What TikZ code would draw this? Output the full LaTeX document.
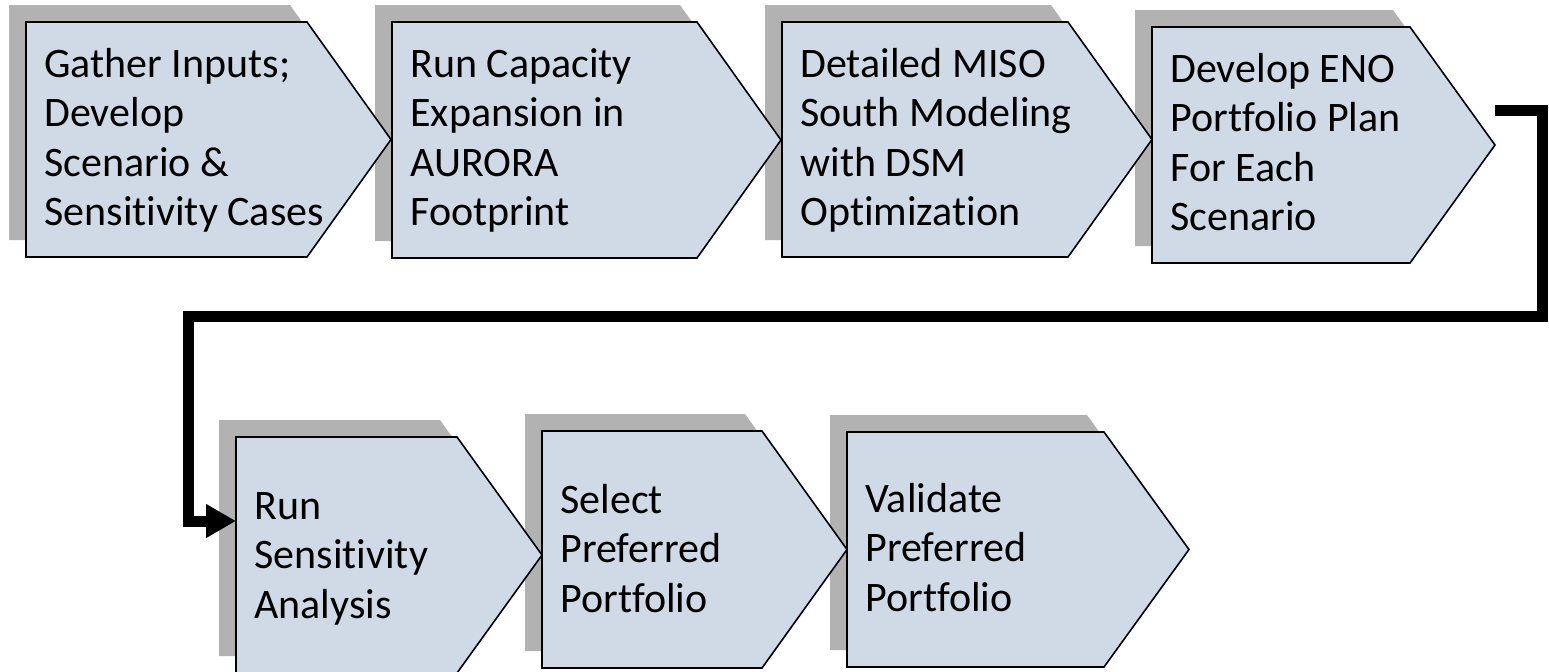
\documentclass[tikz,border=0pt]{standalone}
\usepackage{fontspec}
\setmainfont{Carlito}[Ligatures=NoCommon]
\usetikzlibrary{arrows.meta}
\definecolor{boxfill}{RGB}{208,218,230}
\definecolor{shadowgray}{RGB}{178,178,178}
\tikzset{
  chevbox/.style={fill=boxfill, draw=black, line width=0.8pt, line join=miter},
  chevshadow/.style={fill=shadowgray, draw=none},
  steptext/.style={anchor=base west, align=left, inner sep=0pt, font=\fontsize{21pt}{24.75pt}\selectfont},
  flowline/.style={draw=black, line width=5.5pt, line join=miter, line cap=butt,
    -{Triangle[length=15pt,width=16pt]}}
}
% #1 left, #2 top, #3 flat right, #4 tip x, #5 bottom
\newcommand{\chevpath}[5]{(#1,#2) -- (#3,#2) -- (#4,{(#2+#5)/2}) -- (#3,#5) -- (#1,#5) -- cycle}
\begin{document}
\begin{tikzpicture}[x=0.5pt,y=-0.5pt]
\useasboundingbox (0,0) rectangle (1549,671);
% shadows
\begin{scope}[shift={(-17,-17)}]
\fill[chevshadow] \chevpath{26}{22}{307}{391}{257};
\fill[chevshadow] \chevpath{392}{22}{697}{781}{258};
\fill[chevshadow] \chevpath{782}{22}{1068}{1152}{257};
\fill[chevshadow] \chevpath{1152}{27}{1410}{1495}{263};
\fill[chevshadow] \chevpath{236}{437}{457}{542}{673};
\fill[chevshadow] \chevpath{542}{431}{762}{847}{668};
\fill[chevshadow] \chevpath{847}{432}{1104}{1189}{667};
\end{scope}
% step shapes
\path[chevbox] \chevpath{26}{22}{307}{391}{257};
\path[chevbox] \chevpath{392}{22}{697}{781}{258};
\path[chevbox] \chevpath{782}{22}{1068}{1152}{257};
\path[chevbox] \chevpath{1152}{27}{1410}{1495}{263};
\path[chevbox] \chevpath{236}{437}{457}{542}{673};
\path[chevbox] \chevpath{542}{431}{762}{847}{668};
\path[chevbox] \chevpath{847}{432}{1104}{1189}{667};
% texts (base anchor = last line baseline)
\node[steptext] (s1) at (44,225.5) {Gather Inputs;\\Develop\\Scenario \&\\Sensitivity Cases};
\node[steptext] (s2) at (410,225.5) {Run Capacity\\Expansion in\\AURORA\\Footprint};
\node[steptext] (s3) at (800,225.5) {Detailed MISO\\South Modeling\\with DSM\\Optimization};
\node[steptext] (s4) at (1170,230.5) {Develop ENO\\Portfolio Plan\\For Each\\Scenario};
\node[steptext] (s5) at (254,618) {Run\\Sensitivity\\Analysis};
\node[steptext] (s6) at (560,612) {Select\\Preferred\\Portfolio};
\node[steptext] (s7) at (865,611) {Validate\\Preferred\\Portfolio};
% connector
\coordinate (out4) at (1495,110.5);
\coordinate (in5) at (236,521);
\draw[flowline] (out4) -- (1542.5,110.5) -- (1542.5,316) -- (188.5,316) -- (188.5,521) -- (in5);
\end{tikzpicture}
\end{document}
